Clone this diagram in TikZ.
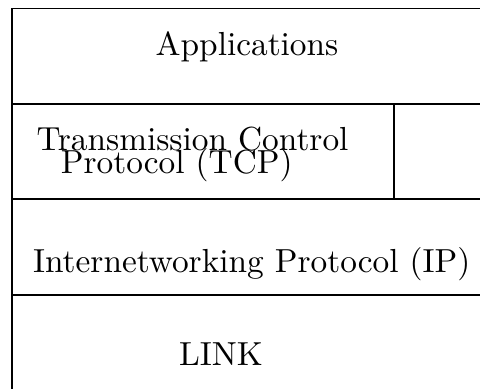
\documentclass[tikz,border=0pt]{standalone}
\begin{document}
\begin{tikzpicture}[x=0.3pt,y=-0.3pt,
  layer/.style={draw, line width=0.45pt, rectangle, inner sep=0pt, anchor=north west},
  lbl/.style={inner sep=0pt, anchor=base, font=\fontsize{10}{12}\selectfont}]
\useasboundingbox (0,0) rectangle (480,388);
\clip (0,0) rectangle (480,388);
\node[layer, minimum width=141.6pt, minimum height=28.65pt] (app) at (11,7.5) {};
\node[layer, minimum width=114.6pt, minimum height=28.5pt] (tcp) at (11,103) {};
\node[layer, minimum width=141.6pt, minimum height=28.8pt] (ip) at (11,198) {};
\node[layer, minimum width=141.6pt, minimum height=29.4pt] (link) at (11,294) {};
\node[lbl] (tapp) at (247,55) {Applications};
\node[lbl] (ttcpa) at (192.5,150) {Transmission Control};
\node[lbl] (ttcpb) at (176.7,173) {Protocol (TCP)};
\node[lbl] (tip) at (251.7,272) {Internetworking Protocol (IP)};
\node[lbl] (tlink) at (221,365) {LINK};
\end{tikzpicture}
\end{document}
